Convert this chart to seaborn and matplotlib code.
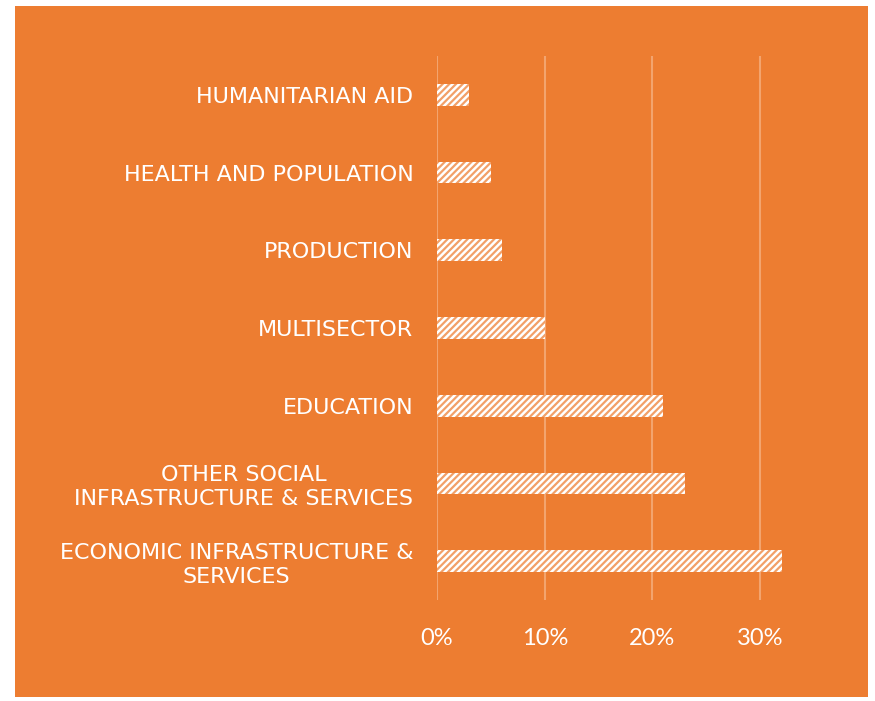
import matplotlib
matplotlib.use("Agg")
import matplotlib.pyplot as plt
from matplotlib.patches import Rectangle
from matplotlib.ticker import FuncFormatter
import seaborn as sns
import pandas as pd

# Share of aid by sector
sectors = [
    "HUMANITARIAN AID",
    "HEALTH AND POPULATION",
    "PRODUCTION",
    "MULTISECTOR",
    "EDUCATION",
    "OTHER SOCIAL\nINFRASTRUCTURE & SERVICES",
    "ECONOMIC INFRASTRUCTURE &\nSERVICES",
]
shares = [0.03, 0.05, 0.06, 0.10, 0.21, 0.23, 0.32]
x_ticks = [0.0, 0.10, 0.20, 0.30]

ORANGE = "#ED7D31"
GRID = "#F3A46E"
STRIPE = "#F2A068"

sns.set_theme(style="white")
plt.rcParams["hatch.linewidth"] = 1.6
plt.rcParams["hatch.color"] = STRIPE

df = pd.DataFrame({"sector": sectors, "share": shares})

fig = plt.figure(figsize=(8.75, 7.01), dpi=100, facecolor="white")
# orange panel behind the chart
fig.patches.append(Rectangle((15 / 875, 1 - 697 / 701), 853 / 875, 691 / 701,
                             transform=fig.transFigure, facecolor=ORANGE,
                             edgecolor="none", zorder=-5))

ax = fig.add_axes([437 / 875, 1 - 600 / 701, 377 / 875, 544 / 701])
ax.set_facecolor("none")
ax.set_zorder(1)

sns.barplot(data=df, x="share", y="sector", orient="h", color="white",
            width=0.28, saturation=1, ax=ax, zorder=3)
for bar in ax.patches:
    bar.set_hatch("/////")
    bar.set_edgecolor(STRIPE)
    bar.set_linewidth(0)

ax.set_xlim(0, 0.35)
ax.set_ylim(6.5, -0.5)
ax.set_xticks(x_ticks)
ax.xaxis.set_major_formatter(FuncFormatter(lambda v, _: f"{v * 100:.0f}%"))
ax.grid(axis="x", color=GRID, linewidth=1.5, zorder=0)
ax.grid(axis="y", visible=False)
for s in ax.spines.values():
    s.set_visible(False)
ax.set_xlabel("")
ax.set_ylabel("")
ax.tick_params(axis="both", length=0)
ax.tick_params(axis="x", pad=20)
ax.tick_params(axis="y", pad=17)

for lab in ax.get_xticklabels():
    lab.set_fontfamily("Lato")
    lab.set_fontsize(17)
    lab.set_color("white")
for lab in ax.get_yticklabels():
    lab.set_fontfamily("DejaVu Sans")
    lab.set_fontsize(16)
    lab.set_color("white")
    lab.set_multialignment("center")
    lab.set_linespacing(1.22)

fig.savefig("out.png", dpi=100, facecolor="white")
